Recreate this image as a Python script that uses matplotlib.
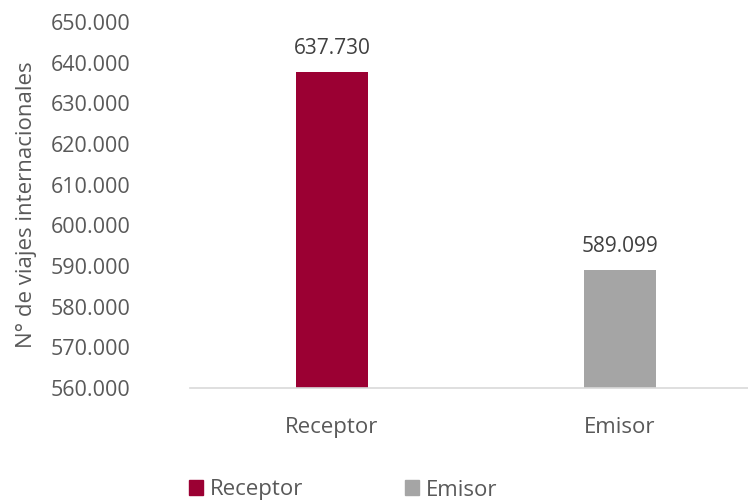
import matplotlib
matplotlib.use("Agg")
import matplotlib.pyplot as plt
from matplotlib.ticker import FuncFormatter, MultipleLocator
from matplotlib.patches import Patch

categories = ["Receptor", "Emisor"]
values = [637730, 589099]
colors = ["#9B0033", "#A5A5A5"]

plt.rcParams['font.family'] = ['Open Sans', 'DejaVu Sans']
txt = "#595959"

W, H = 748, 504
fig = plt.figure(figsize=(W/100, H/100), dpi=100)
left, right, top, bottom = 190, 748, 22, 388
ax = fig.add_axes([left/W, 1 - bottom/H, (right-left)/W, (bottom-top)/H])

x = list(range(len(categories)))
ax.bar(x, values, width=0.25, color=colors, zorder=2)
ax.set_ylim(560000, 650000)
ax.set_xlim(-0.493, 1.444)
ax.yaxis.set_major_locator(MultipleLocator(10000))
ax.yaxis.set_major_formatter(FuncFormatter(lambda v, p: f"{int(v):,}".replace(",", ".")))
ax.set_xticks(x)
ax.set_xticklabels(categories)
for s in ["top", "right", "left"]:
    ax.spines[s].set_visible(False)
ax.spines["bottom"].set_color("#D9D9D9")
ax.spines["bottom"].set_linewidth(1.2)
ax.tick_params(axis="y", length=0, labelsize=15.5, colors=txt, pad=43)
ax.tick_params(axis="x", length=0, labelsize=16, colors=txt, pad=21)
ax.set_ylabel("N° de viajes internacionales", fontsize=16, color=txt)
ax.yaxis.set_label_coords(-(left - 37)/(right-left), 0.5)

for xi, v in zip(x, values):
    ax.annotate(f"{v:,}".replace(",", "."), (xi, v), xytext=(0, 9),
                textcoords="offset points", ha="center", va="bottom",
                fontsize=15, color="#404040")

handles = [Patch(color=c, label=l) for c, l in zip(colors, categories)]
fig.legend(handles=handles, loc="center left", bbox_to_anchor=(169/W, 1 - 490/H),
           ncol=2, frameon=False, fontsize=16, labelcolor=txt,
           handlelength=0.62, handleheight=0.62, handletextpad=0.3, columnspacing=4.6)

fig.savefig("out.png", dpi=100)
